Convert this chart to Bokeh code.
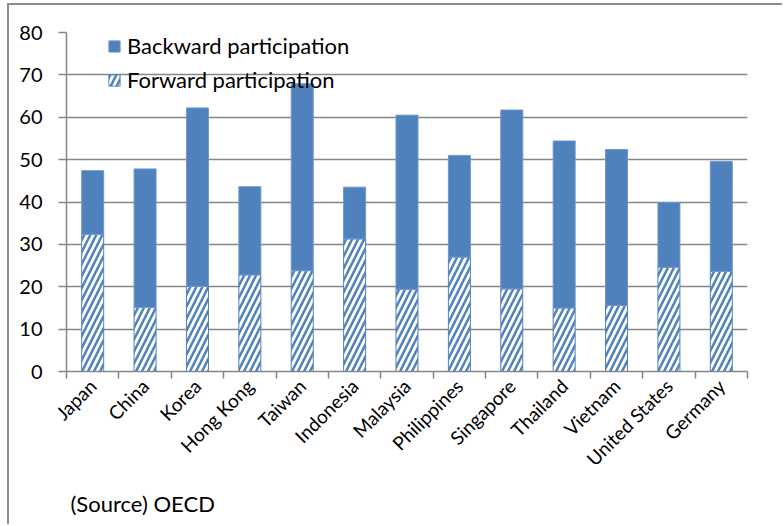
import math
from bokeh.plotting import figure
from bokeh.models import (ColumnDataSource, FixedTicker, Legend, LegendItem,
                          Title, Range1d)
from bokeh.embed import file_html
from bokeh.resources import INLINE

# GVC participation by economy (% of gross exports)
countries = ["Japan", "China", "Korea", "Hong Kong", "Taiwan", "Indonesia",
             "Malaysia", "Philippines", "Singapore", "Thailand", "Vietnam",
             "United States", "Germany"]
forward = [32.4, 15.1, 20.1, 22.8, 23.8, 31.3, 19.4, 27.0, 19.5, 15.0, 15.6, 24.6, 23.6]
backward = [15.0, 32.7, 42.1, 20.8, 44.1, 12.2, 41.1, 24.0, 42.2, 39.4, 36.8, 15.3, 26.0]
y_ticks = [0, 10, 20, 30, 40, 50, 60, 70, 80]

BLUE = "#4f81bd"
GRID = "#868686"
FONT = "Lato"

xs = [i + 0.5 for i in range(len(countries))]
totals = [f + b for f, b in zip(forward, backward)]
src = ColumnDataSource(dict(x=xs, forward=forward, backward=backward, total=totals))

p = figure(width=775, height=521, output_backend="svg", toolbar_location=None,
           x_range=Range1d(0, len(countries)), y_range=Range1d(0, 80),
           min_border_left=57, min_border_right=37, min_border_top=27,
           min_border_bottom=155)
p.margin = (5, 0, 0, 9)
p.styles = {"box-shadow": "-2px -2px 0 0 #8c8c8c"}
p.outline_line_color = None
p.background_fill_color = "white"
p.border_fill_color = "white"

fwd = p.vbar(x="x", bottom=0, top="forward", width=0.42, source=src,
             fill_color="white", line_color=BLUE, line_width=1,
             hatch_pattern="right_diagonal_line", hatch_color=BLUE,
             hatch_weight=2.5, hatch_scale=12)
bwd = p.vbar(x="x", bottom="forward", top="total", width=0.42, source=src,
             fill_color=BLUE, line_color="#6f97cc", line_width=1)

# y axis
p.yaxis.ticker = FixedTicker(ticks=y_ticks)
p.yaxis.axis_line_color = GRID
p.yaxis.axis_line_width = 1.5
p.yaxis.major_tick_line_color = GRID
p.yaxis.major_tick_line_width = 1.5
p.yaxis.major_tick_out = 8
p.yaxis.major_tick_in = 0
p.yaxis.minor_tick_line_color = None
p.yaxis.major_label_text_font = FONT
p.yaxis.major_label_text_font_size = "20px"
p.yaxis.major_label_text_color = "black"
p.yaxis.major_label_standoff = 16

p.ygrid.grid_line_color = GRID
p.ygrid.grid_line_width = 1.5
p.xgrid.grid_line_color = None

# x axis: labels at bar centres, ticks at category boundaries
p.xaxis.ticker = FixedTicker(ticks=xs, minor_ticks=list(range(len(countries) + 1)))
p.xaxis.major_label_overrides = {x: c for x, c in zip(xs, countries)}
p.xaxis.major_label_orientation = math.pi / 4
p.xaxis.major_label_text_font = FONT
p.xaxis.major_label_text_font_size = "19px"
p.xaxis.major_label_text_color = "black"
p.xaxis.major_label_standoff = 4
p.xaxis.major_tick_line_color = None
p.xaxis.minor_tick_line_color = GRID
p.xaxis.minor_tick_line_width = 1.5
p.xaxis.minor_tick_out = 7
p.xaxis.minor_tick_in = 0
p.xaxis.axis_line_color = GRID
p.xaxis.axis_line_width = 1.5

legend = Legend(items=[LegendItem(label="Backward participation", renderers=[bwd]),
                       LegendItem(label="Forward participation", renderers=[fwd])],
                location=(41, 278), border_line_color=None,
                background_fill_alpha=0, padding=0, margin=0,
                glyph_width=14, glyph_height=14, label_height=26, spacing=7,
                label_standoff=6, label_text_font=FONT,
                label_text_font_size="22px", label_text_color="black")
p.add_layout(legend)

source_note = Title(text="(Source) OECD", align="left", offset=4,
                    text_font=FONT, text_font_size="22px",
                    text_font_style="normal", text_color="black", standoff=13)
p.add_layout(source_note, "below")

open("out.html", "w").write(file_html(p, INLINE))
